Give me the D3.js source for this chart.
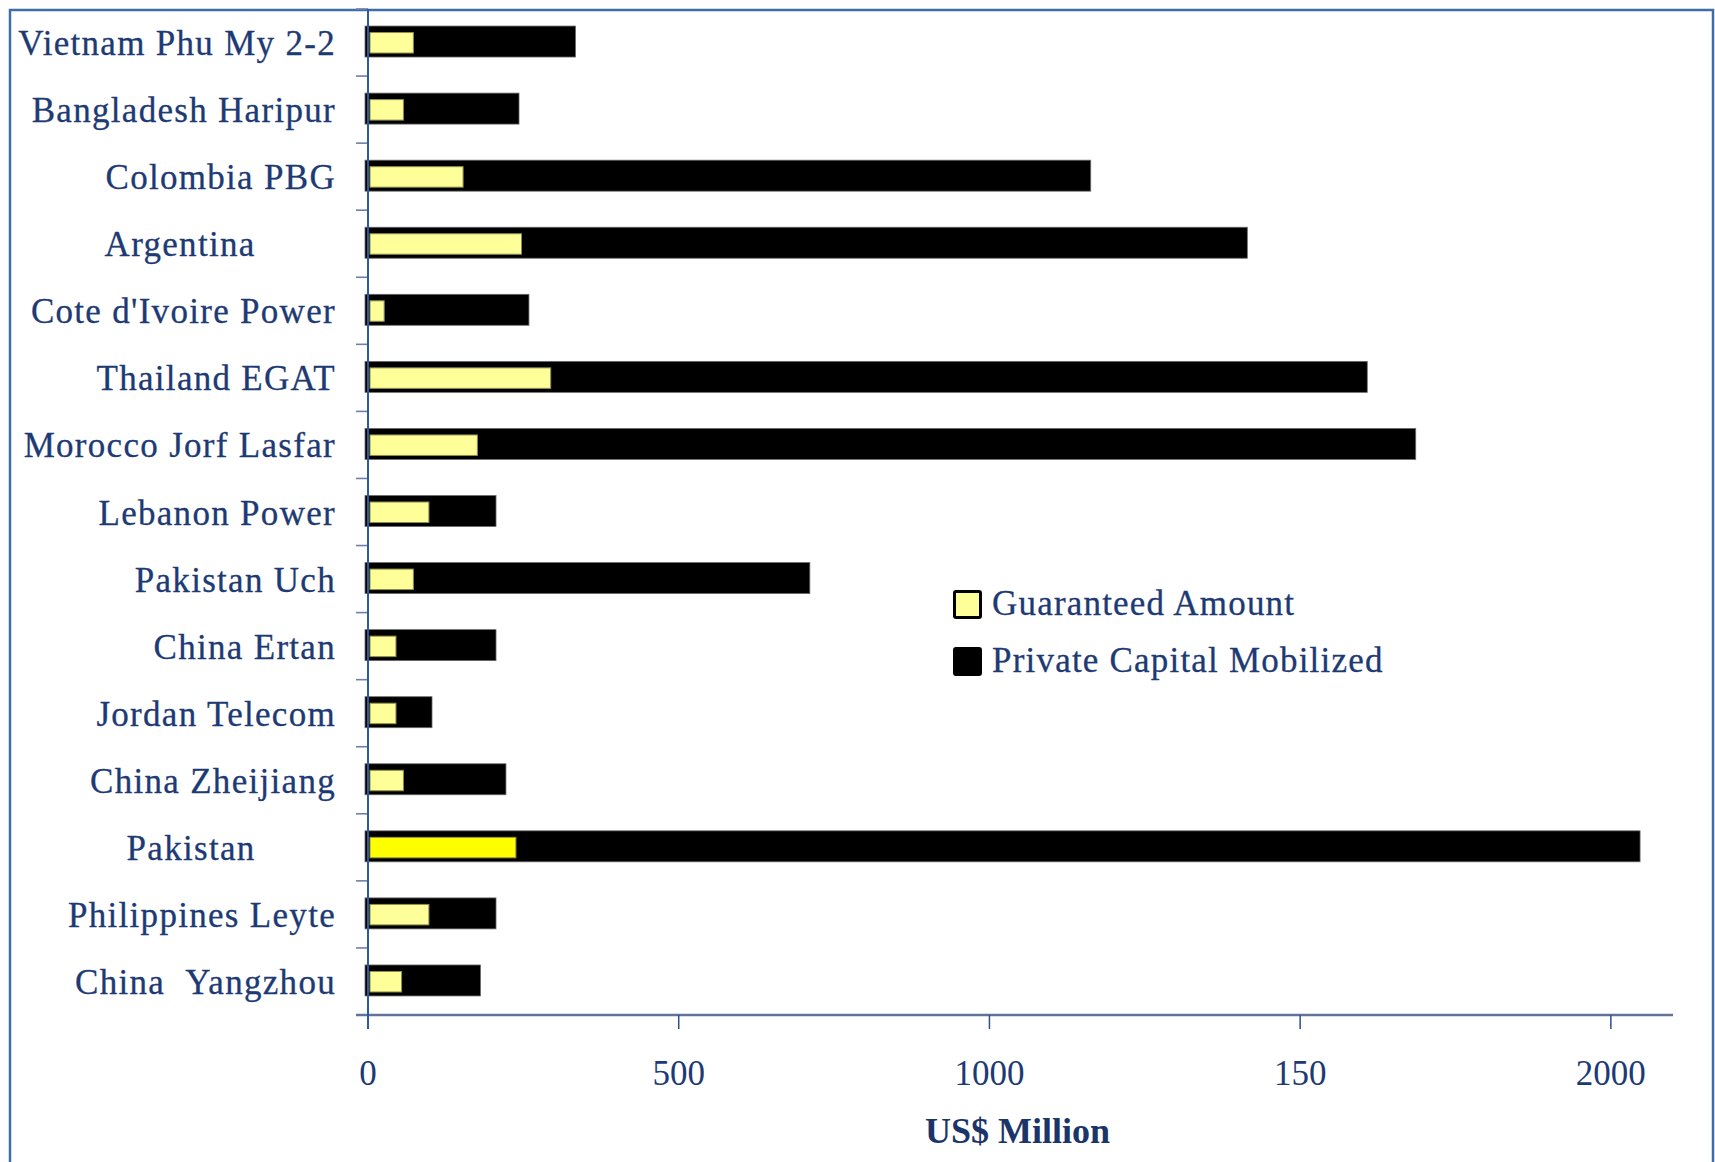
<!DOCTYPE html>
<html><head><meta charset="utf-8">
<script src="https://cdn.jsdelivr.net/npm/d3@7"></script>
<style>
html,body{margin:0;padding:0;background:#fff;}
svg{display:block;}
text{white-space:pre;}
</style></head><body>
<svg id="chart" width="1715" height="1162"></svg>
<script>
const categories = ["Vietnam Phu My 2-2","Bangladesh Haripur","Colombia PBG","Argentina","Cote d'Ivoire Power","Thailand EGAT","Morocco Jorf Lasfar","Lebanon Power","Pakistan Uch","China Ertan","Jordan Telecom","China Zheijiang","Pakistan","Philippines Leyte","China  Yangzhou"];
const categoryLabels = ["Vietnam Phu My 2-2","Bangladesh Haripur","Colombia PBG","Argentina\u00A0\u00A0\u00A0\u00A0\u00A0\u00A0\u00A0\u00A0","Cote d'Ivoire Power","Thailand EGAT","Morocco Jorf Lasfar","Lebanon Power","Pakistan Uch","China Ertan","Jordan Telecom","China Zheijiang","Pakistan\u00A0\u00A0\u00A0\u00A0\u00A0\u00A0\u00A0\u00A0","Philippines Leyte","China\u00A0\u00A0Yangzhou"];
const guaranteed = [73, 57, 153, 247, 26, 294, 176, 98, 73, 45, 45, 57, 238, 98, 54];
const privateCapital = [334, 243, 1163, 1415, 259, 1608, 1686, 206, 711, 206, 103, 222, 2047, 206, 181];
const tickValues = [0, 500, 1000, 1500, 2000];
const tickLabels = ["0", "500", "1000", "150", "2000"];
const seriesNames = ["Guaranteed Amount", "Private Capital Mobilized"];
const axisTitle = "US$ Million";

const textBlue = "#1d3a74";
const lightYellow = "#FFFF99";
const brightYellow = "#FFFF00";

const svg = d3.select("#chart");
const x = d3.scaleLinear().domain([0, 2100]).range([368, 1673]);
const y = d3.scaleBand().domain(categories).range([9, 1015]).paddingInner(0.538).paddingOuter(0.269);
const bw = y.bandwidth();

// outer frame
svg.append("rect").attr("x", 10).attr("y", 10).attr("width", 1703).attr("height", 1200)
  .attr("fill", "none").attr("stroke", "#3f6cab").attr("stroke-width", 2.5);

const rows = categories.map((c, i) => ({c, label: categoryLabels[i], g: guaranteed[i], p: privateCapital[i]}));

// private capital bars (black)
svg.append("g").selectAll("rect").data(rows).join("rect")
  .attr("x", x(0) - 3)
  .attr("y", d => y(d.c) - 1)
  .attr("width", d => x(d.p) - x(0) + 3)
  .attr("height", bw)
  .attr("fill", "#000").attr("stroke", "#6a6a6a").attr("stroke-width", 0.8);

// guaranteed bars (yellow, inset)
svg.append("g").selectAll("rect").data(rows).join("rect")
  .attr("x", x(0) + 2)
  .attr("y", d => y(d.c) + 5.5)
  .attr("width", d => x(d.g) - x(0) - 2)
  .attr("height", bw - 10.5)
  .attr("fill", d => d.c === "Pakistan" ? brightYellow : lightYellow)
  .attr("stroke", "#8e8e4e").attr("stroke-width", 1);

// y axis ticks at band boundaries
const step = y.step();
const bounds = categories.map(c => y(c) - step * y.paddingInner() / 2).concat([y.range()[1]]);
svg.append("g").selectAll("line").data(bounds).join("line")
  .attr("x1", x(0) - 12).attr("x2", x(0))
  .attr("y1", d => d).attr("y2", d => d)
  .attr("stroke", "#6f80a8").attr("stroke-width", 1.6);

// x axis line
svg.append("line").attr("x1", x(0) - 12).attr("x2", x(2100))
  .attr("y1", y.range()[1]).attr("y2", y.range()[1])
  .attr("stroke", "#62739b").attr("stroke-width", 2.6);

// x axis ticks
svg.append("g").selectAll("line").data(tickValues).join("line")
  .attr("x1", d => x(d)).attr("x2", d => x(d))
  .attr("y1", y.range()[1]).attr("y2", y.range()[1] + 14)
  .attr("stroke", "#2d4f8a").attr("stroke-width", 1.5);

// y axis line
svg.append("line").attr("x1", x(0)).attr("x2", x(0))
  .attr("y1", 9).attr("y2", y.range()[1] + 14)
  .attr("stroke", "#2b5b9c").attr("stroke-width", 2);

// category labels
svg.append("g").selectAll("text").data(rows).join("text")
  .attr("x", x(0) - 32)
  .attr("y", d => y(d.c) + 1 + bw / 2)
  .attr("dy", "0.33em")
  .attr("text-anchor", "end")
  .attr("font-family", "'Liberation Serif', 'Times New Roman', serif")
  .attr("font-size", 35)
  .attr("letter-spacing", 1.3)
  .attr("fill", textBlue)
  .attr("stroke", textBlue).attr("stroke-width", 0.3)
  .text(d => d.label);

// x tick labels
svg.append("g").selectAll("text").data(tickValues).join("text")
  .attr("x", d => x(d))
  .attr("y", 1085)
  .attr("text-anchor", "middle")
  .attr("font-family", "'Liberation Serif', 'Times New Roman', serif")
  .attr("font-size", 35)
  .attr("fill", textBlue)
  .text((d, i) => tickLabels[i]);

// axis title
svg.append("text")
  .attr("x", (x(0) + x(2100)) / 2 - 3)
  .attr("y", 1143)
  .attr("text-anchor", "middle")
  .attr("font-family", "'Liberation Serif', 'Times New Roman', serif")
  .attr("font-size", 36)
  .attr("font-weight", "bold")
  .attr("fill", "#1b3568")
  .text(axisTitle);

// legend
const legend = svg.append("g").attr("transform", "translate(953,590)");
const legendFills = [lightYellow, "#000"];
seriesNames.forEach((name, i) => {
  const g = legend.append("g").attr("transform", `translate(0,${i * 57})`);
  g.append("rect").attr("x", 1.5).attr("y", 1.5).attr("width", 26).attr("height", 26)
    .attr("rx", 1.5)
    .attr("fill", legendFills[i]).attr("stroke", "#000").attr("stroke-width", 3);
  g.append("text").attr("x", 39).attr("y", 25)
    .attr("font-family", "'Liberation Serif', 'Times New Roman', serif")
    .attr("font-size", 35)
    .attr("letter-spacing", 1.2)
    .attr("fill", textBlue)
    .attr("stroke", textBlue).attr("stroke-width", 0.3)
    .text(name);
});
</script>
</body></html>
